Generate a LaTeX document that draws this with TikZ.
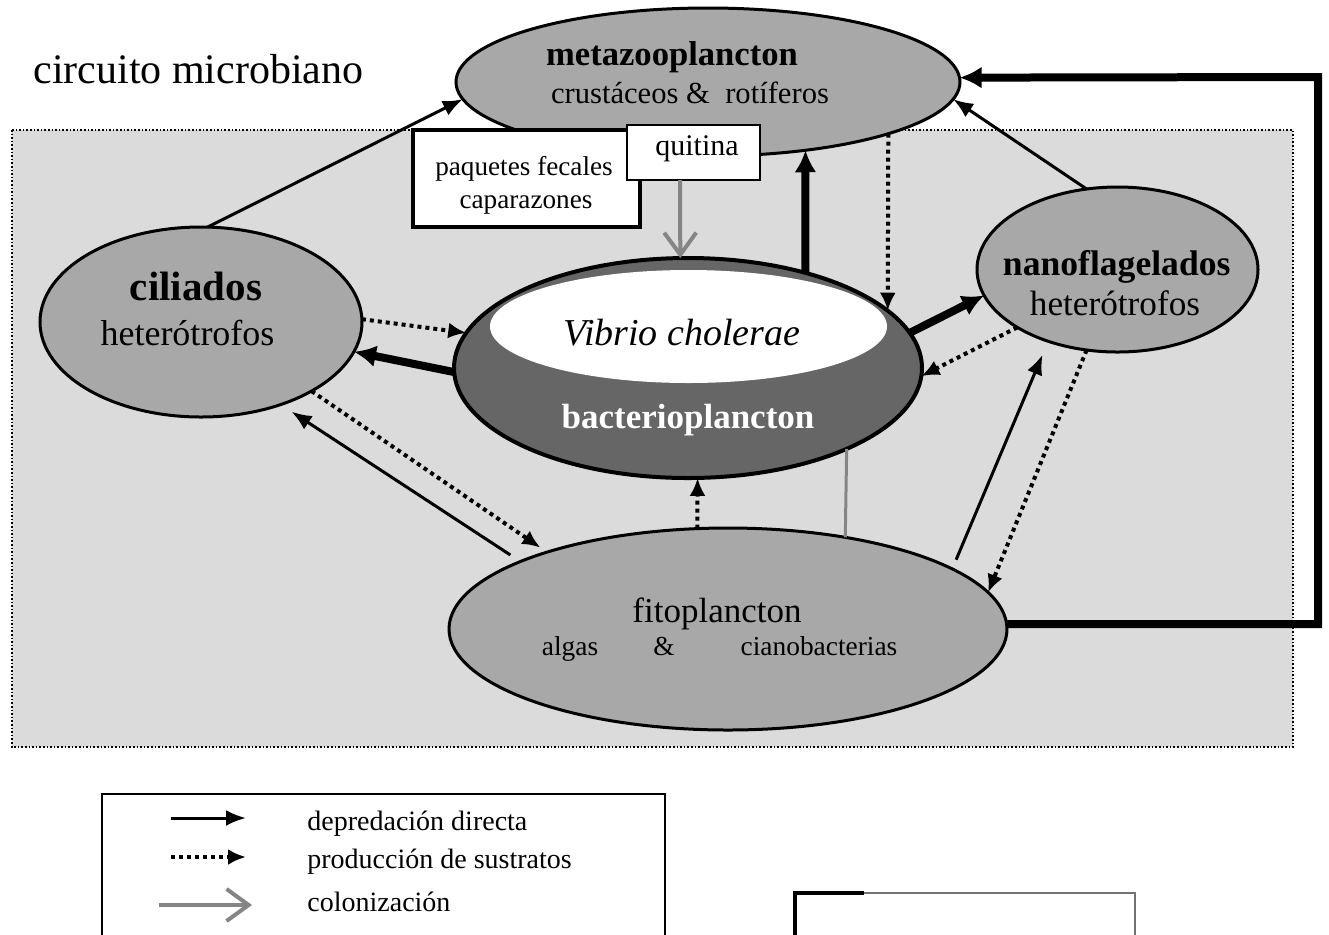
\documentclass[tikz,border=0pt]{standalone}
\usepackage{fontspec}
\setmainfont{Liberation Serif}
\usetikzlibrary{arrows.meta,shapes.geometric}
\definecolor{bggray}{gray}{0.86}
\definecolor{cellgray}{gray}{0.66}
\definecolor{bactgray}{gray}{0.40}
\definecolor{colgray}{gray}{0.52}
\newcommand\setfs[1]{\fontsize{#1}{#1}\selectfont}
\begin{document}
\begin{tikzpicture}[x=0.5pt,y=-0.5pt,
  cell/.style={ellipse,draw,line width=1.5pt,fill=cellgray,inner sep=0pt,outer sep=0pt},
  lbl/.style={anchor=base,inner sep=0pt},
  boxed/.style={draw,fill=white,inner sep=0pt,outer sep=0pt},
  pred/.style={line width=1.5pt,-{Latex[length=10pt,width=8pt]}},
  predthick/.style={line width=4pt,line join=miter,-{Latex[length=11pt,width=11pt]}},
  subs/.style={line width=2pt,dash pattern=on 2pt off 2pt,-{Latex[length=9pt,width=8pt]}},
  colon/.style={draw=colgray,line width=2pt,-{Straight Barb[length=11pt,width=16pt]}},
  ]
\useasboundingbox (0,0) rectangle (1329,934);

% shaded water column
\fill[bggray] (12,130) rectangle (1293,747);
\draw[densely dotted,line width=0.8pt] (12,130) rectangle (1293,747);

\node[anchor=base west,inner sep=0pt] (title) at (33,83) {\setfs{21pt}circuito microbiano};

% compartments
\node[cell,minimum width=252pt,minimum height=74pt] (meta) at (708,82) {};
\node[cell,minimum width=161pt,minimum height=95pt] (cil) at (201,322) {};
\node[cell,minimum width=140.5pt,minimum height=82.5pt] (nano) at (1117.5,269.5) {};
\node[cell,fill=bactgray,line width=2pt,minimum width=234pt,minimum height=110pt] (bact) at (688,368) {};
\node[ellipse,fill=white,inner sep=0pt,minimum width=198.5pt,minimum height=56.5pt] (vib) at (688.5,326.5) {};
\node[cell,minimum width=279pt,minimum height=101pt] (fito) at (728,629) {};

% labels
\node[lbl] (tmeta) at (672,65) {\setfs{17.3pt}\bfseries metazooplancton};
\node[lbl] (tmeta2) at (690,103) {\setfs{15.3pt}crustáceos \&\ \ rotíferos};
\node[lbl] (tcil) at (196,300) {\setfs{20.5pt}\bfseries ciliados};
\node[lbl] (tcil2) at (187.5,345) {\setfs{18pt}heterótrofos};
\node[lbl] (tvib) at (682,345) {\setfs{19pt}\itshape Vibrio cholerae};
\node[lbl,text=white] (tbact) at (688,428) {\setfs{17.5pt}\bfseries bacterioplancton};
\node[lbl] (tnano) at (1116.7,275) {\setfs{17.8pt}\bfseries nanoflagelados};
\node[lbl] (tnano2) at (1115,315) {\setfs{17.6pt}heterótrofos};
\node[lbl] (tfito) at (717,622) {\setfs{17.5pt}fitoplancton};
\node[lbl] (talg) at (570,655) {\setfs{13.7pt}algas};
\node[lbl] (tamp) at (664,655) {\setfs{13.7pt}\&};
\node[lbl] (tcian) at (819,655) {\setfs{13.7pt}cianobacterias};

% detritus boxes
\node[boxed,line width=2pt,minimum width=113.5pt,minimum height=48.5pt] (paq) at (526.5,178.5) {};
\node[lbl] (tpaq1) at (524,175) {\setfs{13.6pt}paquetes fecales};
\node[lbl] (tpaq2) at (526,208) {\setfs{13.6pt}caparazones};
\node[boxed,line width=1.2pt,minimum width=66.5pt,minimum height=27.5pt] (quit) at (693.5,152.5) {};
\node[lbl] (tquit) at (697,155) {\setfs{15pt}quitina};

% direct predation
\draw[pred] (cil.86.4) -- (meta.184.2);
\draw[pred] (nano.111) -- (meta.-4.71);
\coordinate (rt) at (1318,77);
\draw[predthick] (fito.1.855) -| (rt) -- (meta.1.14);
\draw[predthick] (bact.39.8) -- (meta.-35.8);
\draw[predthick] (bact.181) -- (cil.-11.1);
\draw[predthick] (bact.9.82) -- (nano.191.7);
\draw[pred,shorten <=5pt,shorten >=7.3pt] (fito.15.93) -- (nano.226.4);
\draw[pred,shorten <=6pt,shorten >=6.5pt] (fito.162.43) -- (cil.-46.6);

% substrate production
\draw[subs] (meta.-16.58) -- (bact.16.78);
\draw[subs] (cil.1.78) -- (bact.171.03);
\draw[subs] (nano.210.6) -- (bact.-2.95);
\draw[subs] (nano.249.5) -- (fito.8.62);
\draw[subs] (fito.107.16) -- (bact.-85.32);
\draw[subs,shorten >=4pt] (cil.-32.7) -- (fito.157.96);

% colonization
\draw[colon] ([xshift=-6.75pt]quit.south) -- (bact.94.16);
\draw[draw=colgray,line width=1.5pt] (bact.-27.46) -- (fito.38.09);

% legend
\draw[line width=1pt] (102,940) |- (665,794) -- (665,940);
\coordinate (l1a) at (171,818); \coordinate (l1b) at (246,818);
\coordinate (l2a) at (171,857); \coordinate (l2b) at (246,857);
\coordinate (l3a) at (159,905); \coordinate (l3b) at (252,905);
\draw[pred] (l1a) -- (l1b);
\draw[subs] (l2a) -- (l2b);
\draw[colon] (l3a) -- (l3b);
\node[anchor=base west,inner sep=0pt] (lt1) at (307,830) {\setfs{14pt}depredación directa};
\node[anchor=base west,inner sep=0pt] (lt2) at (307,868) {\setfs{14pt}producción de sustratos};
\node[anchor=base west,inner sep=0pt] (lt3) at (307,911) {\setfs{14pt}colonización};

% frame at lower right
\draw[line width=0.6pt,black!55] (864,893) -- (1135,893) -- (1135,940);
\draw[line width=2pt] (795,940) -- (795,893) -- (864,893);
\end{tikzpicture}
\end{document}
